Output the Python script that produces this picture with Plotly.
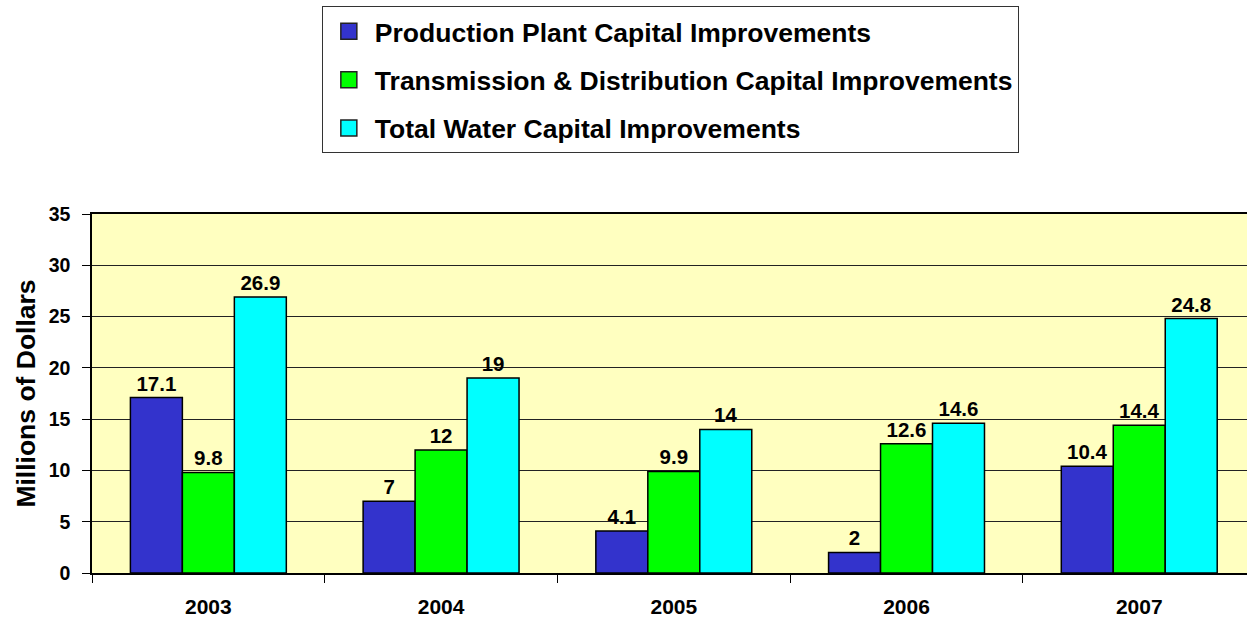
import plotly.graph_objects as go

years = ["2003", "2004", "2005", "2006", "2007"]
production = [17.1, 7, 4.1, 2, 10.4]
transmission = [9.8, 12, 9.9, 12.6, 14.4]
total_water = [26.9, 19, 14, 14.6, 24.8]

series_names = [
    "Production Plant Capital Improvements",
    "Transmission & Distribution Capital Improvements",
    "Total Water Capital Improvements",
]
series_values = [production, transmission, total_water]
colors = ["#3333CC", "#00FF00", "#00FFFF"]

FONT = "Arial, Liberation Sans, sans-serif"

fig = go.Figure()
for i, (name, vals, col) in enumerate(zip(series_names, series_values, colors)):
    fig.add_trace(go.Bar(
        x=years, y=vals, name=name, legendgroup=f"g{i}", showlegend=False,
        marker=dict(color=col, line=dict(color="black", width=1.5)),
        text=[f"{v:g}" for v in vals], textposition="outside",
        textfont=dict(family=FONT, size=20.5, color="black", weight="bold"),
        cliponaxis=False,
    ))
# legend entries with larger square swatches
for i, (name, col) in enumerate(zip(series_names, colors)):
    fig.add_trace(go.Scatter(
        x=[None], y=[None], mode="markers", name=name, legendgroup=f"g{i}",
        marker=dict(symbol="square", size=16, color=col,
                    line=dict(color="#222222", width=1.5)),
        showlegend=True, hoverinfo="skip",
    ))

fig.update_layout(
    width=1247, height=618,
    margin=dict(l=92, r=0, t=214, b=45),
    paper_bgcolor="white", plot_bgcolor="#FFFFC0",
    barmode="group", bargap=0.33, bargroupgap=0,
    font=dict(family=FONT, size=18, color="black"),
    showlegend=True,
    legend=dict(
        x=0.199, y=1.578, xanchor="left", yanchor="top",
        bgcolor="white", bordercolor="#333333", borderwidth=1,
        font=dict(family=FONT, size=26.5, color="black", weight="bold"),
        traceorder="grouped", tracegroupgap=11, itemwidth=42,
        itemclick=False, itemdoubleclick=False,
    ),
    xaxis=dict(
        range=[-0.5, 4.463], tickson="boundaries", ticks="outside", ticklen=8,
        tickcolor="black", showline=True, linecolor="black", linewidth=1.5,
        mirror=True, ticklabelstandoff=14,
        tickfont=dict(family=FONT, size=21, color="black", weight="bold"),
        showgrid=False,
    ),
    yaxis=dict(
        range=[0, 35], dtick=5, ticks="outside", ticklen=8, tickcolor="black",
        showline=True, linecolor="black", linewidth=1.5, ticklabelstandoff=8,
        gridcolor="#222222", gridwidth=1, zeroline=False,
        tickfont=dict(family=FONT, size=19.5, color="black", weight="bold"),
        title=dict(text="Millions of Dollars", standoff=5,
                   font=dict(family=FONT, size=26.5, color="black", weight="bold")),
    ),
)

fig.write_html("out.html", config={"displayModeBar": False},
               post_script="document.body.style.margin='0px';")
